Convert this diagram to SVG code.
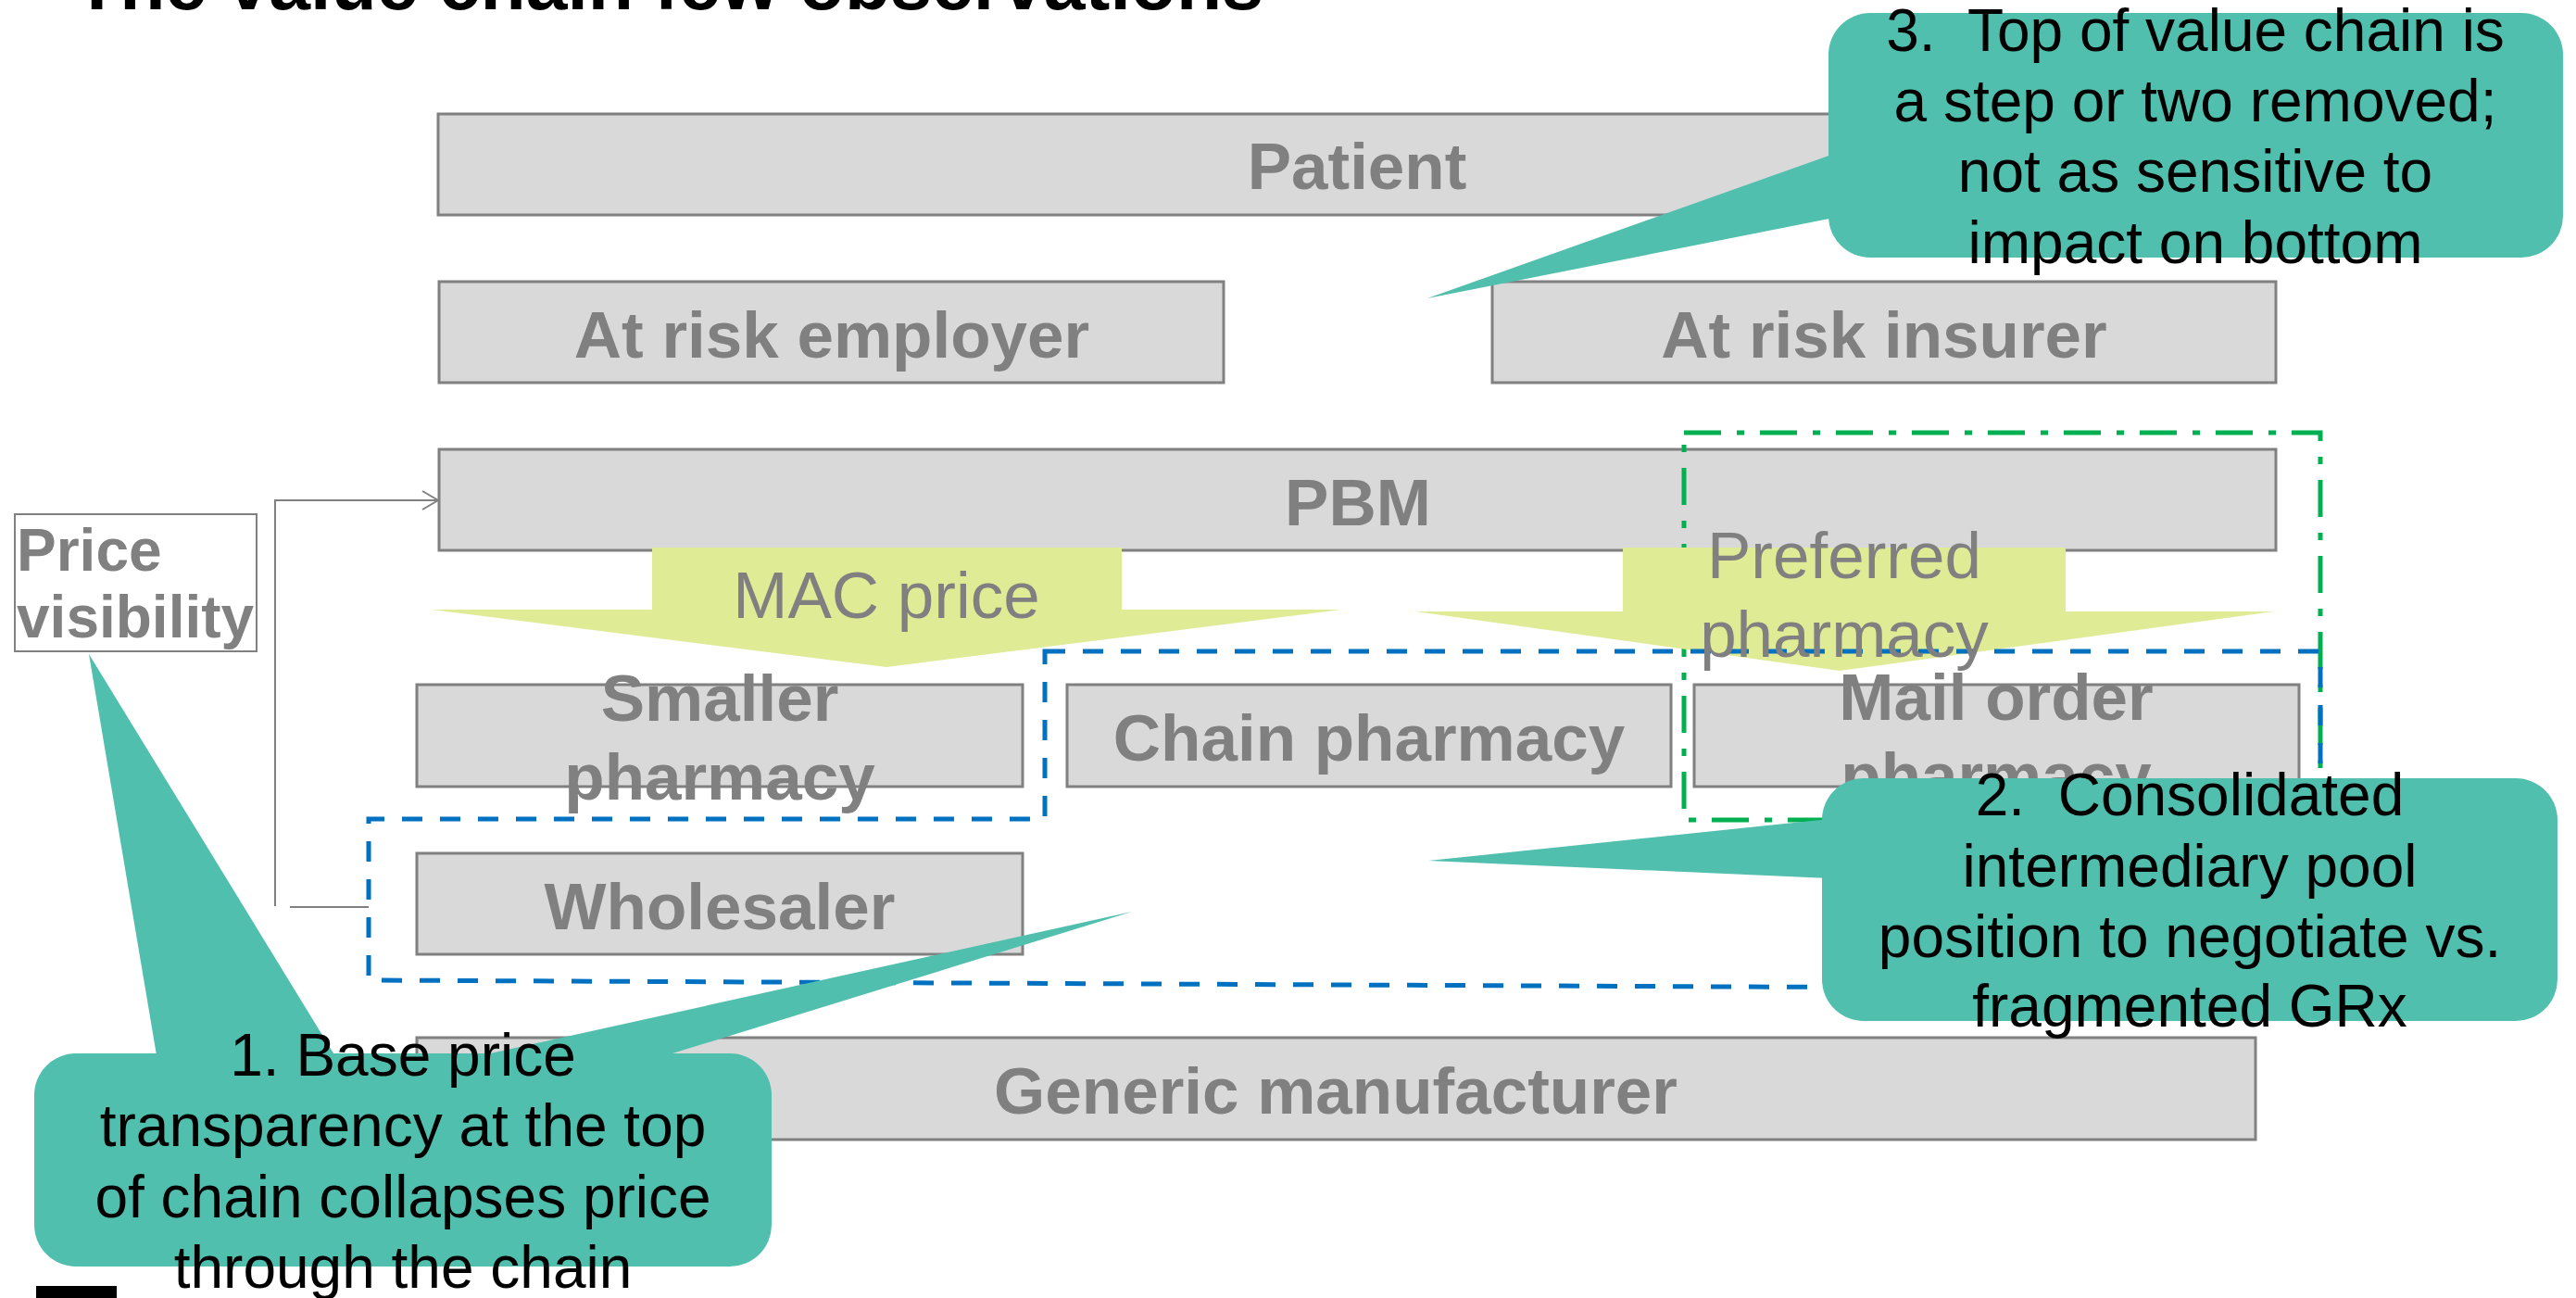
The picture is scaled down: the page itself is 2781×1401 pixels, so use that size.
<svg xmlns="http://www.w3.org/2000/svg" width="2781" height="1401" viewBox="0 0 2781 1401">
<style>
.box{fill:#d9d9d9;stroke:#808080;stroke-width:3}
.bt{font-family:"Liberation Sans",Arial,sans-serif;font-weight:bold;font-size:71px;fill:#808080;text-anchor:middle}
.at{font-family:"Liberation Sans",Arial,sans-serif;font-size:71px;fill:#808080;text-anchor:middle}
.ct{font-family:"Liberation Sans",Arial,sans-serif;font-size:64px;fill:#000;text-anchor:middle}
.call{fill:#51bfae}
.arrow{fill:#dfeb95}
.blue{fill:none;stroke:#0070c0;stroke-width:5;stroke-dasharray:22 19}
.green{fill:none;stroke:#00b050;stroke-width:5;stroke-dasharray:40 17 8 17}
.conn{fill:none;stroke:#808080;stroke-width:2}
</style>
<defs>
<marker id="open" viewBox="-19 -12 21 24" refX="0" refY="0" markerWidth="21" markerHeight="24" markerUnits="userSpaceOnUse" orient="auto">
<path d="M-17,-10 L0,0 L-17,10" fill="none" stroke="#808080" stroke-width="2"/>
</marker>
</defs>
<rect width="2781" height="1401" fill="#fff"/>
<text x="80" y="10" font-family="'Liberation Sans',Arial,sans-serif" font-weight="bold" font-size="80.5" fill="#000">The value chain few observations</text>

<g id="patient"><rect class="box" x="473" y="123" width="1984" height="109"/><text class="bt" x="1465" y="204">Patient</text></g>
<g id="employer"><rect class="box" x="474" y="304" width="847" height="109"/><text class="bt" x="898" y="386">At risk employer</text></g>
<g id="insurer"><rect class="box" x="1611" y="304" width="846" height="109"/><text class="bt" x="2034" y="386">At risk insurer</text></g>
<g id="pbm"><rect class="box" x="474" y="485" width="1983" height="109"/><text class="bt" x="1466" y="567">PBM</text></g>
<g id="smaller"><rect class="box" x="450" y="739" width="654" height="110"/><text class="bt" x="777" y="778">Smaller</text><text class="bt" x="777" y="863">pharmacy</text></g>
<g id="chain"><rect class="box" x="1152" y="739" width="652" height="110"/><text class="bt" x="1478" y="821">Chain pharmacy</text></g>
<g id="mail"><rect class="box" x="1829" y="739" width="653" height="110"/><text class="bt" x="2155" y="777">Mail order</text><text class="bt" x="2155" y="862">pharmacy</text></g>
<g id="wholesaler"><rect class="box" x="450" y="921" width="654" height="109"/><text class="bt" x="777" y="1003">Wholesaler</text></g>
<g id="generic"><rect class="box" x="450" y="1120" width="1985" height="110"/><text class="bt" x="1442" y="1202">Generic manufacturer</text></g>

<g id="price-visibility"><rect x="16" y="555" width="261" height="148" fill="#fff" stroke="#808080" stroke-width="2"/>
<text x="18" y="616" font-family="'Liberation Sans',Arial,sans-serif" font-weight="bold" font-size="64" fill="#808080">Price</text>
<text x="18" y="688" font-family="'Liberation Sans',Arial,sans-serif" font-weight="bold" font-size="64" fill="#808080">visibility</text></g>

<g id="groups">
<rect class="green" x="1818" y="467" width="687" height="418"/>
</g>

<g id="mac-price"><polygon class="arrow" points="704,591 1211,591 1211,658 1448,658 957,720 466,658 704,658"/></g>
<g id="preferred"><polygon class="arrow" points="1752,591 2230,591 2230,660 2455,660 1986,724 1528,660 1752,660"/></g>

<g id="pools"><path class="blue" d="M1128,703 L2505,703 L2505,1068 L398,1058 L398,884 L1128,884 Z"/></g>

<g id="arrow-labels">
<text class="at" x="957" y="667">MAC price</text>
<text class="at" x="1991" y="624">Preferred</text>
<text class="at" x="1991" y="709">pharmacy</text>
</g>

<g id="connectors">
<polyline class="conn" points="297,978 297,540 473,540" marker-end="url(#open)"/>
<line class="conn" x1="313" y1="979" x2="398" y2="979"/>
</g>

<g id="callout3">
<polygon class="call" points="1980,166 1541,322 1980,235"/>
<rect class="call" x="1974" y="14" width="793" height="264" rx="45" ry="45"/>
<text class="ct" xml:space="preserve" x="2370" y="55">3.  Top of value chain is</text>
<text class="ct" x="2370" y="131">a step or two removed;</text>
<text class="ct" x="2370" y="207">not as sensitive to</text>
<text class="ct" x="2370" y="284">impact on bottom</text>
</g>

<g id="callout2">
<polygon class="call" points="1975,884 1542,929 1975,948"/>
<rect class="call" x="1967" y="840" width="794" height="262" rx="45" ry="45"/>
<text class="ct" xml:space="preserve" x="2364" y="880">2.  Consolidated</text>
<text class="ct" x="2364" y="957">intermediary pool</text>
<text class="ct" x="2364" y="1033">position to negotiate vs.</text>
<text class="ct" x="2364" y="1108">fragmented GRx</text>
</g>

<g id="callout1">
<polygon class="call" points="170,1145 96,706 365,1145"/>
<polygon class="call" points="493,1145 1222,984 700,1145"/>
<rect class="call" x="37" y="1137" width="796" height="230" rx="45" ry="45"/>
<text class="ct" x="435" y="1161">1. Base price</text>
<text class="ct" x="435" y="1237">transparency at the top</text>
<text class="ct" x="435" y="1314">of chain collapses price</text>
<text class="ct" x="435" y="1390">through the chain</text>
</g>

<g id="logo"><rect x="39" y="1388" width="87" height="13" fill="#000"/></g>
</svg>
